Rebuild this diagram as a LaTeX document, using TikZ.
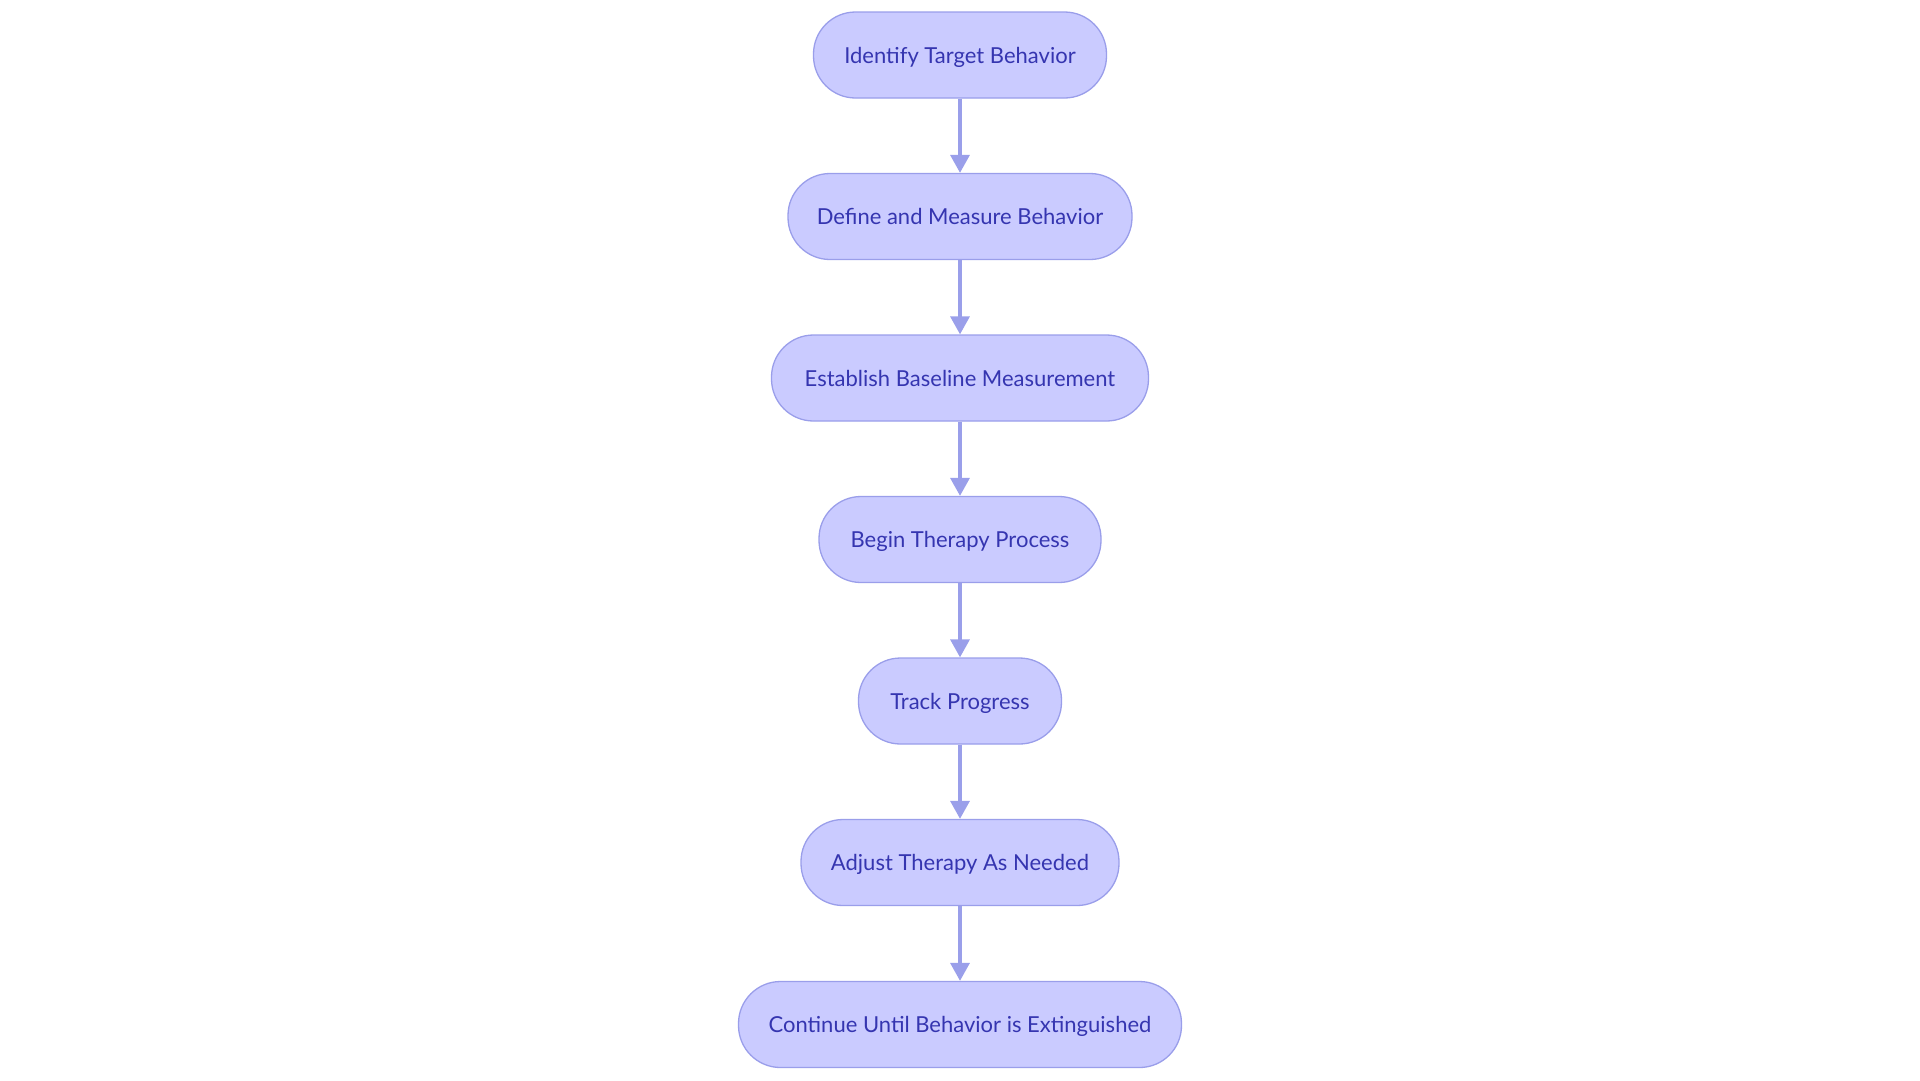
\documentclass[tikz,border=0pt]{standalone}
\usepackage{fontspec}
\setmainfont{Lato}
\usetikzlibrary{arrows.meta}
\definecolor{nodefill}{HTML}{CACBFF}
\definecolor{nodeline}{HTML}{9A9EEA}
\definecolor{nodetext}{HTML}{3535B0}
\definecolor{arrowcol}{HTML}{9A9FEA}
\tikzset{
  flowbox/.style={draw=nodeline, fill=nodefill, line width=1.3pt, rounded corners=42pt,
    minimum height=86pt, inner sep=0pt, text=nodetext, text height=20pt, text depth=3.4pt,
    font=\fontsize{22}{26}\selectfont},
  flowarrow/.style={draw=arrowcol, line width=3.4pt, -{Triangle[length=18pt,width=19pt]}}
}
\begin{document}
\begin{tikzpicture}[x=1pt,y=-1pt]
\useasboundingbox (0,0) rectangle (1920,1080);
\node[flowbox, minimum width=293pt] (n1) at (960,55) {Identify Target Behavior};
\node[flowbox, minimum width=344pt] (n2) at (960,216.5) {Define and Measure Behavior};
\node[flowbox, minimum width=377pt] (n3) at (960,378) {Establish Baseline Measurement};
\node[flowbox, minimum width=282pt] (n4) at (960,539.5) {Begin Therapy Process};
\node[flowbox, minimum width=203pt] (n5) at (960,701) {Track Progress};
\node[flowbox, minimum width=318pt] (n6) at (960,862.5) {Adjust Therapy As Needed};
\node[flowbox, minimum width=443pt] (n7) at (960,1024.5) {Continue Until Behavior is Extinguished};
\draw[flowarrow] (n1) -- (n2);
\draw[flowarrow] (n2) -- (n3);
\draw[flowarrow] (n3) -- (n4);
\draw[flowarrow] (n4) -- (n5);
\draw[flowarrow] (n5) -- (n6);
\draw[flowarrow] (n6) -- (n7);
\end{tikzpicture}
\end{document}
